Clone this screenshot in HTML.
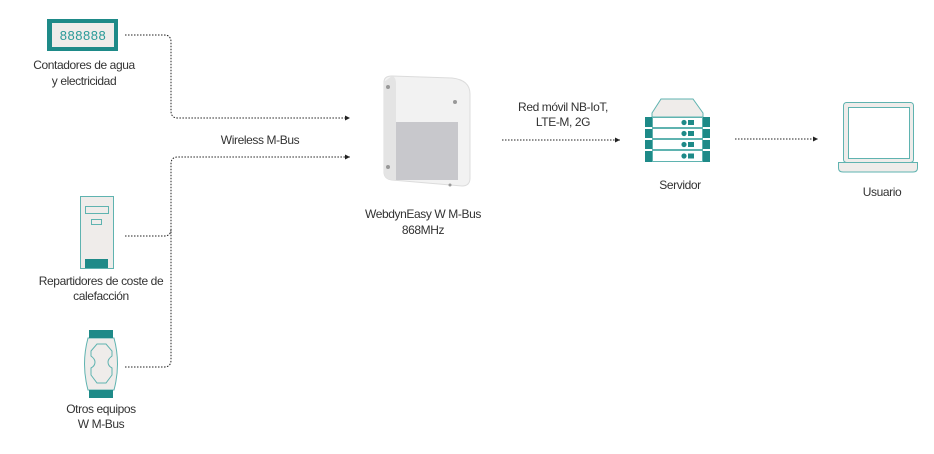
<!DOCTYPE html>
<html><head><meta charset="utf-8"><style>
body{margin:0;background:#fff}
svg{display:block}
text{font-family:"Liberation Sans",sans-serif;font-size:12px;fill:#333;text-anchor:middle;letter-spacing:-0.4px}
</style></head><body>
<svg width="934" height="454" viewBox="0 0 934 454" xmlns="http://www.w3.org/2000/svg">
<defs><marker id="a" markerWidth="6" markerHeight="6" refX="5" refY="3" orient="auto"><path d="M0,0.5 L5,3 L0,5.5z" fill="#222"/></marker></defs>
<g fill="none" stroke="#222" stroke-width="1" stroke-dasharray="1.5,1.5">
<path d="M125,35 H164 Q171,35 171,42 V111 Q171,118 178,118 H350" marker-end="url(#a)"/>
<path d="M125,367 H164 Q171,367 171,360 V164 Q171,157 178,157 H350" marker-end="url(#a)"/>
<path d="M125,236 H164 Q171,236 171,229"/>
<path d="M502,140 H620" marker-end="url(#a)"/>
<path d="M735,139 H818" marker-end="url(#a)"/>
</g>
<!-- meter -->
<rect x="47" y="19" width="71" height="32" fill="#1e8a88"/>
<rect x="52" y="23" width="62" height="24" fill="#efecea"/>
<text x="83" y="40" style="fill:#2a9a98;font-size:13px;letter-spacing:0.5px">888888</text>
<text x="84" y="69">Contadores de agua</text>
<text x="84" y="85">y electricidad</text>
<!-- repartidor -->
<rect x="80.5" y="196.5" width="33" height="72" fill="#efecea" stroke="#5fb3b0"/>
<rect x="85.5" y="206.5" width="23" height="7" fill="none" stroke="#5fb3b0"/>
<rect x="91.5" y="219.5" width="10" height="5" fill="none" stroke="#5fb3b0"/>
<rect x="85" y="259" width="23" height="9" fill="#1e8a88"/>
<text x="101" y="285">Repartidores de coste de</text>
<text x="101" y="300">calefacción</text>
<!-- otros -->
<path d="M88,338 H114 Q121,364 114,390 H88 Q81,364 88,338z" fill="#efecea" stroke="#5fb3b0"/>
<rect x="89" y="330" width="24" height="8" fill="#1e8a88"/>
<rect x="89" y="390" width="24" height="8" fill="#1e8a88"/>
<path d="M91,351 L97,344 H106 L112,351 V356 Q108,359 108,362 Q108,366 112,368 V375 L106,383 H97 L91,375 V368 Q95,366 95,362 Q95,359 91,356z" fill="none" stroke="#5fb3b0"/>
<text x="101" y="413">Otros equipos</text>
<text x="101" y="428">W M-Bus</text>
<!-- device -->
<path d="M384,82 Q384,76 392,76 L452,78 Q470,80 470,94 L470,178 Q470,186 462,186 L392,180 Q384,179 384,172z" fill="#f2f2f2" stroke="#dcdcdc"/>
<path d="M384,82 L384,172 Q384,179 392,180 L396,180 L396,84 Q396,77 392,76z" fill="#e4e4e4"/>
<rect x="396" y="122" width="62" height="58" fill="#c8c8cc"/>
<circle cx="388" cy="87" r="2" fill="#999"/><circle cx="455" cy="102" r="2" fill="#999"/>
<circle cx="388" cy="167" r="2" fill="#999"/><circle cx="450" cy="185" r="1.5" fill="#999"/>
<text x="423" y="218">WebdynEasy W M-Bus</text>
<text x="423" y="234">868MHz</text>
<text x="260" y="144">Wireless M-Bus</text>
<text x="563" y="111">Red móvil NB-IoT,</text>
<text x="563" y="126">LTE-M, 2G</text>
<!-- server -->
<path d="M661,99 H693 L703,113 V117 H652 V113z" fill="#efecea" stroke="#5fb3b0"/>
<g fill="#1e8a88">
<rect x="645" y="117" width="7" height="10"/><rect x="703" y="117" width="7" height="10"/>
<rect x="645" y="129" width="7" height="9"/><rect x="703" y="129" width="7" height="9"/>
<rect x="645" y="140" width="7" height="9"/><rect x="703" y="140" width="7" height="9"/>
<rect x="645" y="151" width="7" height="11"/><rect x="703" y="151" width="7" height="11"/>
</g>
<g fill="#fff" stroke="#5fb3b0">
<rect x="652.5" y="117.5" width="50" height="10"/><rect x="652.5" y="128.5" width="50" height="10"/>
<rect x="652.5" y="139.5" width="50" height="10"/><rect x="652.5" y="150.5" width="50" height="11"/>
</g>
<g fill="#1e8a88">
<circle cx="684" cy="122.5" r="2.6"/><rect x="688" y="120" width="6" height="5"/>
<circle cx="684" cy="133.5" r="2.6"/><rect x="688" y="131" width="6" height="5"/>
<circle cx="684" cy="144.5" r="2.6"/><rect x="688" y="142" width="6" height="5"/>
<circle cx="684" cy="156" r="2.6"/><rect x="688" y="153.5" width="6" height="5"/>
</g>
<text x="680" y="189">Servidor</text>
<!-- laptop -->
<rect x="843.5" y="102.5" width="70" height="60" rx="3" fill="#efecea" stroke="#5fb3b0"/>
<rect x="848.5" y="107.5" width="61" height="51" fill="#fff" stroke="#5fb3b0"/>
<path d="M838.5,162.5 H917.5 V168 Q917.5,172 913,172 H843 Q838.5,172 838.5,168z" fill="#efecea" stroke="#5fb3b0"/>
<text x="882" y="196">Usuario</text>
</svg>
</body></html>
